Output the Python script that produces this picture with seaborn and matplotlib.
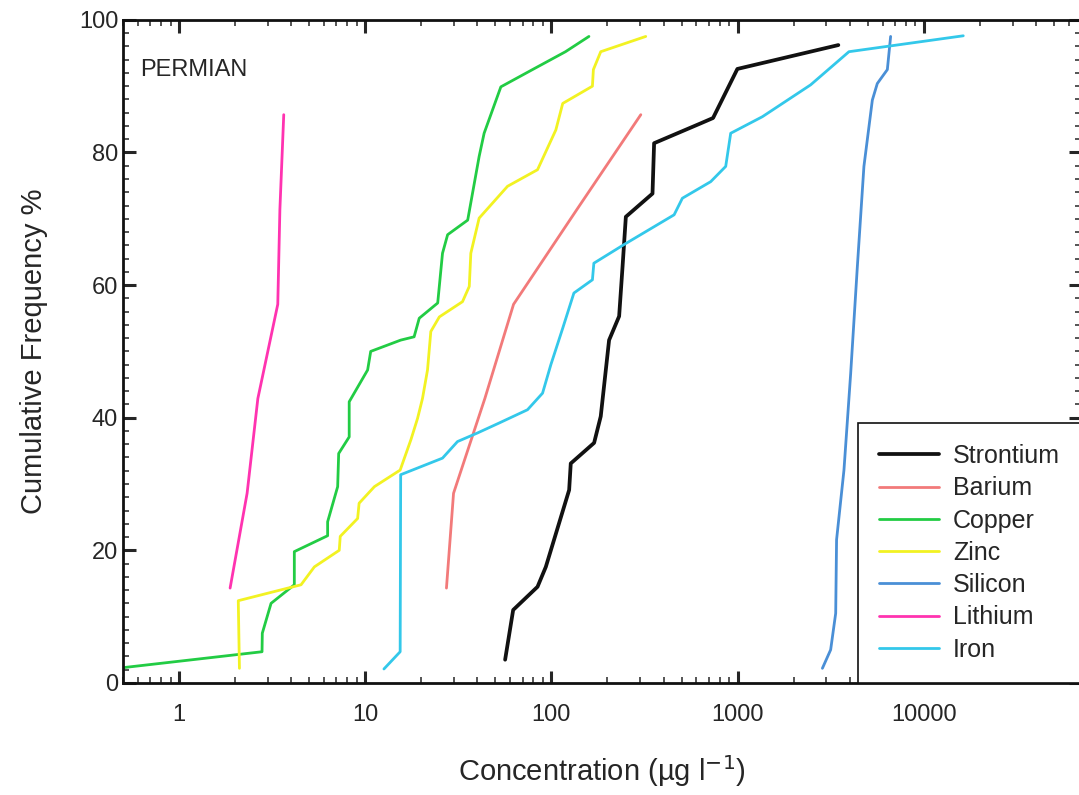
import matplotlib
matplotlib.use("Agg")
import matplotlib.pyplot as plt
import matplotlib.ticker as mticker
import seaborn as sns
import pandas as pd

# cumulative frequency (%) vs concentration (ug/l)
strontium_x = [56.4, 62.3, 84.2, 93.3, 124.5, 127, 169.5, 184, 204, 231, 241, 251, 349, 356, 634, 738, 997, 3475]
strontium_y = [3.5, 11.0, 14.5, 17.5, 29.1, 33.1, 36.2, 40.2, 51.7, 55.3, 62.8, 70.3, 73.8, 81.4, 84.4, 85.2, 92.6, 96.2]

barium_x = [27.3, 29.8, 43.9, 62.6, 137, 302]
barium_y = [14.3, 28.6, 42.9, 57.1, 71.4, 85.7]

copper_x = [0.5, 2.79, 2.8, 3.12, 4.16, 4.16, 6.28, 6.28, 7.11, 7.2, 8.2, 8.2, 10.3, 10.7, 15.5, 18.3,
            19.5, 24.5, 26.0, 27.7, 35.5, 40.9, 43.5, 53.5, 79.1, 119, 159]
copper_y = [2.3, 4.7, 7.5, 12.0, 14.8, 19.8, 22.2, 24.3, 29.6, 34.6, 37.1, 42.4, 47.2, 50.0, 51.7, 52.2,
            55.0, 57.3, 64.8, 67.6, 69.8, 79.4, 82.9, 89.9, 92.5, 95.2, 97.5]

zinc_x = [2.11, 2.08, 4.52, 5.33, 7.25, 7.34, 9.1, 9.27, 11.2, 15.4, 17.6, 19.1, 20.3, 21.6, 22.5, 25.0,
          33.3, 36.2, 36.9, 40.9, 58.1, 84.2, 105.6, 115, 166, 168, 184, 321]
zinc_y = [2.2, 12.4, 14.8, 17.5, 20.0, 22.1, 24.8, 27.1, 29.6, 32.1, 36.7, 39.9, 42.9, 47.2, 53.0, 55.2,
          57.5, 59.8, 64.8, 70.1, 74.9, 77.4, 83.4, 87.4, 90.0, 92.5, 95.2, 97.5]

silicon_x = [2853, 3160, 3363, 3400, 3725, 4048, 4396, 4768, 5291, 5626, 6370, 6634]
silicon_y = [2.2, 5.0, 10.5, 21.6, 32.1, 46.7, 62.8, 77.9, 87.9, 90.4, 92.5, 97.5]

lithium_x = [1.88, 2.32, 2.65, 3.39, 3.48, 3.65]
lithium_y = [14.3, 28.6, 42.9, 57.1, 71.4, 85.7]

iron_x = [12.6, 15.4, 15.5, 26.0, 31.3, 40.1, 52.4, 74.4, 89.6, 99.3, 115, 132, 166, 169, 245, 456,
          505, 717, 863, 918, 1359, 2467, 3963, 16290]
iron_y = [2.1, 4.7, 31.4, 33.9, 36.4, 37.7, 39.2, 41.2, 43.7, 48.0, 53.5, 58.8, 60.8, 63.3, 66.1, 70.6,
          73.1, 75.6, 77.9, 82.9, 85.4, 90.2, 95.2, 97.6]

elements = ["Strontium", "Barium", "Copper", "Zinc", "Silicon", "Lithium", "Iron"]
colors = ["#111111", "#f27a7a", "#22cc44", "#f2f222", "#4a8fd6", "#ff33b0", "#33c8ea"]
xs = [strontium_x, barium_x, copper_x, zinc_x, silicon_x, lithium_x, iron_x]
ys = [strontium_y, barium_y, copper_y, zinc_y, silicon_y, lithium_y, iron_y]

sns.set_style("ticks")
plt.rcParams['font.family'] = ['Liberation Sans', 'DejaVu Sans']

fig = plt.figure(figsize=(10.79, 7.95), dpi=100)
ax = fig.add_axes([0.114, 0.141, 0.888, 0.834])

for name, c, x, y in zip(elements, colors, xs, ys):
    df = pd.DataFrame({"conc": x, "freq": y})
    lw = 2.7 if name == "Strontium" else 2.0
    sns.lineplot(data=df, x="conc", y="freq", sort=False, estimator=None,
                 color=c, lw=lw, label=name, ax=ax)

ax.set_xscale("log")
ax.set_xlim(0.5, 70000)
ax.set_ylim(0, 100)

ax.xaxis.set_major_locator(mticker.LogLocator(base=10, numticks=20))
ax.xaxis.set_minor_locator(mticker.LogLocator(base=10, subs=range(2, 10), numticks=20))
ax.xaxis.set_major_formatter(mticker.FuncFormatter(lambda v, p: f"{v:g}" if v < 1e5 else ""))
ax.xaxis.set_minor_formatter(mticker.NullFormatter())
ax.yaxis.set_major_locator(mticker.MultipleLocator(20))
ax.yaxis.set_minor_locator(mticker.MultipleLocator(2))

ax.tick_params(which="both", direction="in", top=True, right=True, labelsize=17, width=1.6)
ax.tick_params(which="major", length=9, width=2.2)
ax.tick_params(which="minor", length=4.5, width=1.1)
ax.tick_params(axis="x", which="major", pad=15)
for s in ax.spines.values():
    s.set_linewidth(2.0)
    s.set_color("#111111")

ax.set_xlabel("Concentration (µg l$^{-1}$)", fontsize=21, labelpad=20)
ax.set_ylabel("Cumulative Frequency %", fontsize=21, labelpad=22)
ax.text(0.018, 0.925, "PERMIAN", transform=ax.transAxes, fontsize=17, va="center", ha="left")

leg = ax.legend(loc="lower right", borderaxespad=0, fontsize=18, frameon=True, fancybox=False,
                edgecolor="#111111", framealpha=1, handlelength=2.4, handletextpad=0.55,
                labelspacing=0.33, borderpad=0.85)
leg.get_frame().set_linewidth(1.2)

fig.savefig("out.png", dpi=100)
